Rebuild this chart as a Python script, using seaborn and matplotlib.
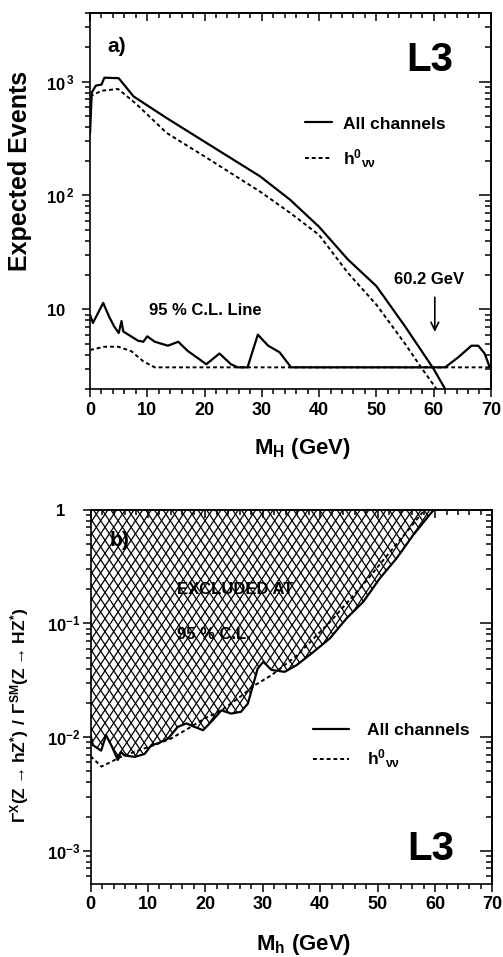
import numpy as np
import matplotlib
matplotlib.use('Agg')
import matplotlib.pyplot as plt
import seaborn as sns
from matplotlib.ticker import MultipleLocator, NullFormatter
from matplotlib.collections import LineCollection
from matplotlib.lines import Line2D
from matplotlib.transforms import IdentityTransform

# ---- panel a: expected events ----
mass_all = [0, 0.3, 1, 2, 2.5, 5, 7.6, 13.4, 20, 29.7, 34.9, 40, 45, 50, 55, 60, 62]
events_all = [350, 800, 920, 940, 1080, 1070, 740, 477, 296, 147, 92, 53, 27.5, 16, 7.1, 3.0, 2.0]

mass_nn = [0, 2, 4.9, 8, 13.4, 20, 29.7, 35, 40, 45, 50, 55, 58, 60.5]
events_nn = [740, 830, 860, 640, 353, 220, 108, 70, 45, 21, 11, 5, 3.0, 2.0]

# 95% C.L. lines
cl_mass = [0, 0.5, 2.3, 3.3, 4.2, 5.0, 5.5, 5.8, 8.4, 9.3, 10.0, 11.3, 13.6, 15.4, 17.1,
           18.3, 20.3, 22.6, 24.6, 25.8, 27.5, 29.3, 31.1, 33.1, 35.1, 60.0, 62.0, 64.3,
           66.6, 67.8, 68.9, 69.8]
cl_all = [9.0, 7.6, 11.4, 8.7, 7.1, 6.2, 7.9, 6.4, 5.3, 5.2, 5.8, 5.2, 4.8, 5.2, 4.3,
          3.9, 3.3, 4.1, 3.3, 3.1, 3.1, 6.0, 4.8, 4.2, 3.1, 3.1, 3.1, 3.8,
          4.8, 4.8, 4.1, 3.1]
cl_nn_mass = [0, 2.5, 4.9, 7.2, 9.3, 11.3, 70]
cl_nn = [4.4, 4.7, 4.7, 4.3, 3.5, 3.1, 3.1]

# ---- panel b: ratio limits ----
mass_b_all = [0, 0.4, 1.85, 2.7, 3.6, 4.75, 5.3, 5.9, 7.7, 9.4, 10.6, 11.7, 13.5, 15.2,
              16.7, 18.1, 19.6, 21.0, 22.8, 24.5, 26.2, 27.4, 28.3, 29.1, 30.1, 31.5,
              33.8, 35.9, 38.8, 41.7, 44.6, 47.5, 50.4, 53.3, 56.2, 59.1, 59.8]
ratio_all = [0.0105, 0.0085, 0.0076, 0.0104, 0.0085, 0.0063, 0.0074, 0.0069, 0.0067,
             0.0071, 0.0085, 0.0088, 0.0097, 0.0123, 0.0132, 0.0123, 0.0115, 0.0136,
             0.0172, 0.0161, 0.0167, 0.0197, 0.0286, 0.040, 0.046, 0.039, 0.0375,
             0.043, 0.056, 0.074, 0.111, 0.155, 0.25, 0.374, 0.60, 0.91, 1.0]
mass_b_nn = [0, 1.9, 5.3, 8.2, 11.1, 14, 17, 19.9, 22.8, 25.7, 28.6, 31.5, 35.9, 41.7,
             47.5, 53.3, 56.8, 58.2]
ratio_nn = [0.0068, 0.0055, 0.0067, 0.0076, 0.0085, 0.0097, 0.0119, 0.0146, 0.0172,
            0.0219, 0.0286, 0.035, 0.052, 0.103, 0.22, 0.50, 0.82, 1.0]

sns.set_theme(style='white')
plt.rcParams['font.family'] = ['Liberation Sans', 'DejaVu Sans']
plt.rcParams['font.weight'] = 'bold'
plt.rcParams['axes.labelweight'] = 'bold'
plt.rcParams['mathtext.default'] = 'regular'
plt.rcParams['axes.edgecolor'] = 'black'
plt.rcParams['axes.linewidth'] = 1.2
plt.rcParams['text.color'] = 'black'
plt.rcParams['axes.labelcolor'] = 'black'
plt.rcParams['xtick.color'] = 'black'
plt.rcParams['ytick.color'] = 'black'
plt.rcParams['legend.labelcolor'] = 'black'

DASH = (0, (2.0, 1.5))
LW_SOLID = 1.6
LW_DASH = 1.4


def style_axes(ax):
    ax.set_xlim(0, 70)
    ax.xaxis.set_major_locator(MultipleLocator(10))
    ax.xaxis.set_minor_locator(MultipleLocator(2))
    ax.yaxis.set_minor_formatter(NullFormatter())
    ax.tick_params(axis='both', which='both', direction='out', color='black',
                   labelcolor='black', left=True, bottom=True, width=1.1)
    ax.tick_params(which='major', length=6)
    ax.tick_params(which='minor', length=3.5)
    ax.tick_params(axis='x', labelsize=13, pad=3)
    ax.tick_params(axis='y', labelsize=12, pad=25.5)
    for lab in ax.get_xticklabels() + ax.get_yticklabels():
        lab.set_fontweight('bold')
    for lab in ax.get_yticklabels():
        lab.set_horizontalalignment('left')
    top = ax.secondary_xaxis('top')
    top.xaxis.set_major_locator(MultipleLocator(10))
    top.xaxis.set_minor_locator(MultipleLocator(2))
    top.tick_params(which='both', direction='in', labeltop=False, width=1.1)
    top.tick_params(which='major', length=6)
    top.tick_params(which='minor', length=3.5)
    right = ax.secondary_yaxis('right')
    right.yaxis.set_minor_formatter(NullFormatter())
    right.tick_params(which='both', direction='in', labelright=False, width=1.1)
    right.tick_params(which='major', length=9)
    right.tick_params(which='minor', length=4)


fig = plt.figure(figsize=(5.03, 9.57), dpi=100)

# ================= panel a =================
ax1 = fig.add_axes([0.179, 0.5935, 0.797, 0.393])
ax1.set_yscale('log')
ax1.set_ylim(2.0, 4000)
sns.lineplot(x=mass_all, y=events_all, ax=ax1, color='black', lw=LW_SOLID)
sns.lineplot(x=mass_nn, y=events_nn, ax=ax1, color='black', lw=LW_DASH, linestyle=DASH)
sns.lineplot(x=cl_mass, y=cl_all, ax=ax1, color='black', lw=LW_SOLID)
sns.lineplot(x=cl_nn_mass, y=cl_nn, ax=ax1, color='black', lw=LW_DASH, linestyle=DASH)
ax1.set_yticks([10, 100, 1000],
               labels=[r'$10$', r'$10^{\,2}$', r'$10^{\,3}$'])
style_axes(ax1)
ax1.set_xlabel(r'M$_{H}$ (GeV)', fontsize=16)
ax1.xaxis.set_label_coords(0.53, -0.125)
ax1.set_ylabel('Expected Events', fontsize=18)
ax1.yaxis.set_label_coords(-0.145, 0.58)

ax1.text(0.067, 0.91, 'a)', transform=ax1.transAxes, fontsize=15,
         ha='center', va='center')
ax1.text(0.848, 0.875, 'L3', transform=ax1.transAxes, fontsize=29,
         ha='center', va='center')
ax1.text(20.1, 9.8, '95 % C.L. Line', fontsize=12, ha='center', va='center')
ax1.text(59.2, 18.3, '60.2 GeV', fontsize=12, ha='center', va='center')
ax1.annotate('', xy=(60.2, 6.0), xytext=(60.2, 13.5),
             arrowprops=dict(arrowstyle='->', color='black', lw=1.2,
                             mutation_scale=14))

handles_a = [Line2D([], [], color='black', lw=LW_SOLID),
             Line2D([], [], color='black', lw=LW_DASH, linestyle=DASH)]
ax1.legend(handles_a, ['All channels', r'h$^{0}$$_{\nu\nu}$'],
           loc='upper left', bbox_to_anchor=(0.535, 0.725), frameon=False,
           fontsize=12.5, handlelength=1.6, handletextpad=0.6,
           labelspacing=0.9, borderpad=0, borderaxespad=0)

# ================= panel b =================
ax2 = fig.add_axes([0.180, 0.0763, 0.799, 0.391])
ax2.set_yscale('log')
ax2.set_ylim(5.1e-4, 1)

excl = ax2.fill_between(mass_b_all, ratio_all, 1, facecolor='none', edgecolor='none')
sns.lineplot(x=mass_b_all, y=ratio_all, ax=ax2, color='black', lw=LW_SOLID)
sns.lineplot(x=mass_b_nn, y=ratio_nn, ax=ax2, color='black', lw=LW_DASH, linestyle=DASH)

# cross-hatch texture inside the excluded region
bb = ax2.bbox
cell_w, slope = 8.7, 1.5
run = bb.height / slope
segs = []
for k in np.arange(-run, bb.width + run, cell_w):
    segs.append([(bb.x0 + k, bb.y0), (bb.x0 + k + run, bb.y1)])
    segs.append([(bb.x0 + k, bb.y1), (bb.x0 + k + run, bb.y0)])
hatch = LineCollection(segs, colors='black', linewidths=0.9,
                       transform=IdentityTransform(), zorder=1.5)
ax2.add_collection(hatch, autolim=False)
hatch.set_clip_path(excl.get_paths()[0], ax2.transData)

ax2.set_yticks([1e-3, 1e-2, 1e-1, 1],
               labels=[r'$10^{-3}$', r'$10^{-2}$', r'$10^{-1}$', r'$\enspace1$'])
style_axes(ax2)
ax2.set_xlabel(r'M$_{h}$ (GeV)', fontsize=16)
ax2.xaxis.set_label_coords(0.53, -0.128)
ax2.set_ylabel(r'$\Gamma^{X}(Z\rightarrow hZ^{*})\ /\ \Gamma^{SM}(Z\rightarrow HZ^{*})$',
               fontsize=12.5)
ax2.yaxis.set_label_coords(-0.148, 0.45)

ax2.text(0.073, 0.917, 'b)', transform=ax2.transAxes, fontsize=15,
         ha='center', va='center', zorder=3)
ax2.text(0.215, 0.786, 'EXCLUDED AT', transform=ax2.transAxes, fontsize=12,
         ha='left', va='center', zorder=3)
ax2.text(0.215, 0.666, '95 % C.L.', transform=ax2.transAxes, fontsize=12,
         ha='left', va='center', zorder=3)
ax2.text(0.846, 0.094, 'L3', transform=ax2.transAxes, fontsize=29,
         ha='center', va='center')

handles_b = [Line2D([], [], color='black', lw=LW_SOLID),
             Line2D([], [], color='black', lw=LW_DASH, linestyle=DASH)]
ax2.legend(handles_b, ['All channels', r'h$^{0}$$_{\nu\nu}$'],
           loc='upper left', bbox_to_anchor=(0.553, 0.43), frameon=False,
           fontsize=12.5, handlelength=2.1, handletextpad=1.0,
           labelspacing=0.55, borderpad=0, borderaxespad=0)

fig.savefig('out.png', dpi=100)
